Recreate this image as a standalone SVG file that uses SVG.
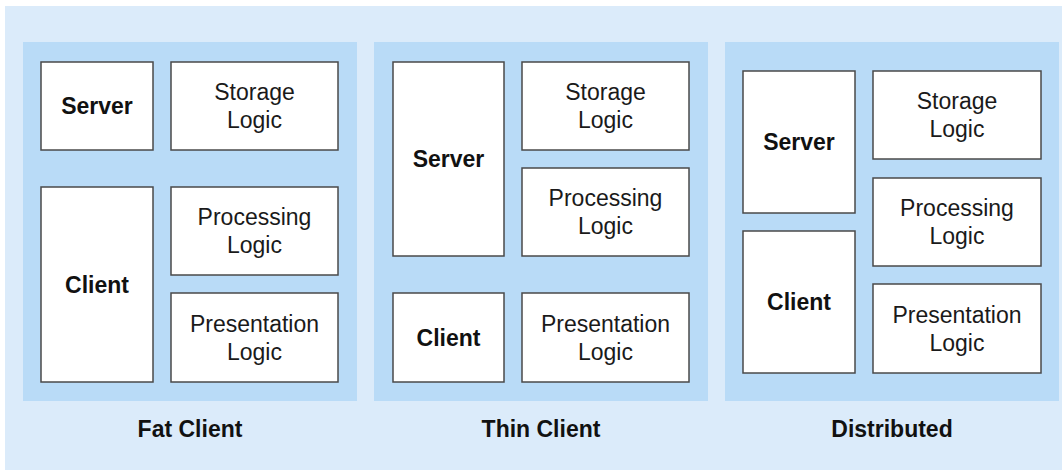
<svg xmlns="http://www.w3.org/2000/svg" width="1062" height="470" viewBox="0 0 1062 470">
<style>
.bg{fill:#dbebfa}
.panel{fill:#b9dbf7}
.box{fill:#ffffff;stroke:#4a4a4a;stroke-width:1.5}
text{font-family:"Liberation Sans",Arial,sans-serif;font-size:23px;text-anchor:middle;fill:#1a1a1a}
.b{font-weight:bold;fill:#111}
</style>
<rect class="bg" x="5" y="6" width="1062" height="470"/>
<g id="panel-fat">
<rect class="panel" x="23" y="42" width="334" height="359"/>
<text class="b" x="190" y="437">Fat Client</text>
</g>
<g id="panel-thin">
<rect class="panel" x="374" y="42" width="334" height="359"/>
<text class="b" x="541" y="437">Thin Client</text>
</g>
<g id="panel-dist">
<rect class="panel" x="725" y="42" width="334" height="359"/>
<text class="b" x="892" y="437">Distributed</text>
</g>
<g id="fat-server"><rect class="box" x="41" y="62" width="112" height="88"/><text class="b" x="97" y="114">Server</text></g>
<g id="fat-storage"><rect class="box" x="171" y="62" width="167" height="88"/><text x="254.5" y="100">Storage</text><text x="254.5" y="128">Logic</text></g>
<g id="fat-client"><rect class="box" x="41" y="187" width="112" height="195"/><text class="b" x="97" y="292.5">Client</text></g>
<g id="fat-processing"><rect class="box" x="171" y="187" width="167" height="88"/><text x="254.5" y="225">Processing</text><text x="254.5" y="253">Logic</text></g>
<g id="fat-presentation"><rect class="box" x="171" y="293" width="167" height="89"/><text x="254.5" y="331.5">Presentation</text><text x="254.5" y="359.5">Logic</text></g>
<g id="thin-server"><rect class="box" x="393" y="62" width="111" height="194"/><text class="b" x="448.5" y="167">Server</text></g>
<g id="thin-storage"><rect class="box" x="522" y="62" width="167" height="88"/><text x="605.5" y="100">Storage</text><text x="605.5" y="128">Logic</text></g>
<g id="thin-processing"><rect class="box" x="522" y="168" width="167" height="88"/><text x="605.5" y="206">Processing</text><text x="605.5" y="234">Logic</text></g>
<g id="thin-client"><rect class="box" x="393" y="293" width="111" height="89"/><text class="b" x="448.5" y="345.5">Client</text></g>
<g id="thin-presentation"><rect class="box" x="522" y="293" width="167" height="89"/><text x="605.5" y="331.5">Presentation</text><text x="605.5" y="359.5">Logic</text></g>
<g id="dist-server"><rect class="box" x="743" y="71" width="112" height="142"/><text class="b" x="799" y="150">Server</text></g>
<g id="dist-storage"><rect class="box" x="873" y="71" width="168" height="88"/><text x="957" y="109">Storage</text><text x="957" y="137">Logic</text></g>
<g id="dist-client"><rect class="box" x="743" y="231" width="112" height="142"/><text class="b" x="799" y="310">Client</text></g>
<g id="dist-processing"><rect class="box" x="873" y="178" width="168" height="88"/><text x="957" y="216">Processing</text><text x="957" y="244">Logic</text></g>
<g id="dist-presentation"><rect class="box" x="873" y="284" width="168" height="89"/><text x="957" y="322.5">Presentation</text><text x="957" y="350.5">Logic</text></g>
<g id="connectors"/>
</svg>
